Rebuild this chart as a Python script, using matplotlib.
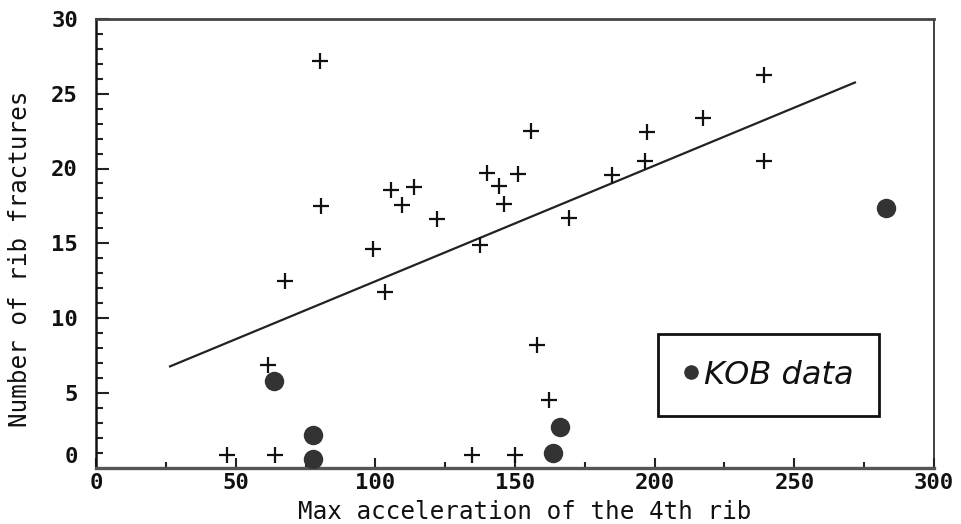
import numpy as np
import matplotlib
matplotlib.use("Agg")
import matplotlib.pyplot as plt
from matplotlib.ticker import MultipleLocator, FixedLocator

# ---- data ----
plus_x = [46.8, 64.2, 134.5, 150.0, 61.5, 67.8, 80.3, 80.6, 99.2, 103.5,
          105.5, 109.7, 113.9, 121.9, 137.6, 140.0, 144.3, 146.2, 151.2, 155.9,
          157.8, 162.3, 169.2, 184.9, 196.6, 197.2, 217.4, 239.2, 239.3]
plus_y = [0, 0, 0, 0, 6.87, 12.49, 27.17, 17.5, 14.63, 11.71,
          18.55, 17.57, 18.77, 16.59, 14.87, 19.69, 18.8, 17.6, 19.64, 22.5,
          8.21, 4.53, 16.7, 19.55, 20.49, 22.47, 23.38, 26.24, 20.51]

kob_x = [63.8, 77.6, 77.6, 163.6, 166.1, 282.8]
kob_y = [5.80, 2.15, 0.59, 0.95, 2.69, 17.33]

fit_slope = 0.07745
fit_intercept = 4.71
fit_xrange = [26.5, 271.7]

x_ticks = [0, 50, 100, 150, 200, 250, 300]
x_labels = ["0", "50", "100", "150", "200", "250", "300"]
y_tick_values = [0, 5, 10, 15, 20, 25, 30]
y_labels = ["0", "5", "10", "15", "20", "25", "30"]

x_label = "Max acceleration of the 4th rib"
y_label = "Number of rib fractures"
legend_label = "KOB data"

# the original plots its "0" row a little above the bottom axis line
ZERO_ROW = 0.85

# ---- figure ----
fig = plt.figure(figsize=(9.62, 5.24), dpi=100)
ax = fig.add_axes([96 / 962, 1 - 467.5 / 524, (934 - 96) / 962, (467.5 - 19) / 524])

py = np.array(plus_y, dtype=float)
py_plot = np.where(py == 0, ZERO_ROW, py)
ax.plot(plus_x, py_plot, linestyle="none", marker="+", markersize=11.5,
        markeredgewidth=1.6, color="#111111", zorder=3)

kob_line, = ax.plot(kob_x, kob_y, linestyle="none", marker="o", markersize=14,
                    color="#333333", markeredgewidth=0, label=legend_label, zorder=4)

fx = np.array(fit_xrange)
ax.plot(fx, fit_intercept + fit_slope * fx, color="#222222", linewidth=1.6, zorder=2)

ax.set_xlim(0, 300)
ax.set_ylim(0, 30)

ax.set_xticks(x_ticks)
ax.set_xticklabels(x_labels)
ax.xaxis.set_minor_locator(MultipleLocator(25))

ytick_pos = [ZERO_ROW if v == 0 else v for v in y_tick_values]
ax.set_yticks(ytick_pos)
ax.set_yticklabels(y_labels)
ax.yaxis.set_minor_locator(FixedLocator(list(range(1, 30))))
ax.yaxis.get_major_ticks()[0].tick1line.set_visible(False)

ax.tick_params(axis="x", which="major", direction="in", length=7, width=1.5,
               pad=4, top=False, colors="#222222")
ax.tick_params(axis="x", which="minor", direction="in", length=4.5, width=1.5, top=False,
               colors="#222222")
ax.tick_params(axis="y", which="major", direction="in", length=9, width=1.5,
               pad=13, right=False, colors="#222222")
ax.tick_params(axis="y", which="minor", direction="in", length=5, width=1.5, right=False,
               colors="#222222")
for lab in ax.get_xticklabels() + ax.get_yticklabels():
    lab.set_fontfamily("DejaVu Sans Mono")
    lab.set_fontweight("bold")
    lab.set_fontsize(16)
    lab.set_color("#111111")

ax.spines["left"].set_linewidth(1.8)
ax.spines["left"].set_color("#111111")
ax.spines["bottom"].set_linewidth(2.4)
ax.spines["bottom"].set_color("#555555")
ax.spines["top"].set_linewidth(2.0)
ax.spines["top"].set_color("#444444")
ax.spines["right"].set_linewidth(1.2)
ax.spines["right"].set_color("#222222")

label_font = dict(family="DejaVu Sans Mono", size=17.5, color="#111111")
ax.set_xlabel(x_label, **label_font)
ax.set_ylabel(y_label, **label_font)
ax.xaxis.set_label_coords(0.512, -0.072)
ax.yaxis.set_label_coords(-0.076, 0.465)

leg = ax.legend(handles=[kob_line], loc="center",
                bbox_to_anchor=(240.8, 6.18), bbox_transform=ax.transData,
                prop=dict(family="DejaVu Sans", style="italic", size=23),
                markerscale=0.75, handlelength=0.5, handletextpad=0.15,
                borderpad=0.8, fancybox=False, framealpha=1, edgecolor="#111111",
                labelcolor="#111111")
leg.get_frame().set_linewidth(2.0)

fig.savefig("out.png", dpi=100)
